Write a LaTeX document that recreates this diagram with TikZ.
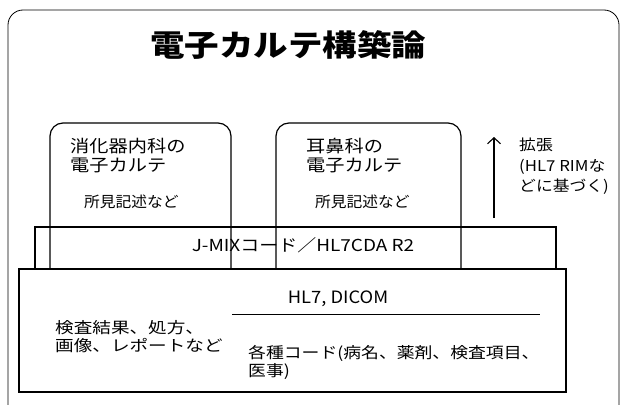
\documentclass[tikz,border=0pt]{standalone}
\usepackage{graphicx}
\usepackage{fontspec}
\setmainfont{Noto Sans CJK JP}
\usetikzlibrary{arrows.meta}
\newcommand{\wl}[2]{\scalebox{#1}[1]{\begin{tabular}{@{}l@{}}#2\end{tabular}}}
\tikzset{
  frame/.style={draw=black, line width=0.8pt},
  boxline/.style={draw=black, line width=1.2pt},
  txt/.style={inner sep=0pt, anchor=west},
  ctxt/.style={inner sep=0pt},
}
\begin{document}
\begin{tikzpicture}[x=1pt,y=-1pt]
\useasboundingbox (0,0) rectangle (623,404);
% outer frame
\draw[frame, rounded corners=15pt] (8,420) -- (8,10) -- (619,10) -- (619,420);
% title
\node[ctxt, font=\fontsize{30}{30}\selectfont\bfseries] (title) at (288,48) {\wl{1.15}{電子カルテ構築論}};
% department boxes
\draw[boxline, rounded corners=13pt] (50,269) -- (50,123) -- (231,123) -- (231,269);
\draw[boxline, rounded corners=13pt] (276,269) -- (276,123) -- (461,123) -- (461,269);
\node[txt, font=\fontsize{17}{18}\selectfont] (gi1) at (70,158) {\wl{1.13}{消化器内科の\\電子カルテ}};
\node[txt, font=\fontsize{17}{18}\selectfont] (ent1) at (306,158) {\wl{1.13}{耳鼻科の\\電子カルテ}};
\node[txt, font=\fontsize{15}{15}\selectfont] (gi2) at (84,203) {\wl{1.05}{所見記述など}};
\node[txt, font=\fontsize{15}{15}\selectfont] (ent2) at (315,203) {\wl{1.05}{所見記述など}};
% J-MIX box
\draw[boxline] (35,269) rectangle (556,227);
\node[ctxt, font=\fontsize{16.5}{16.5}\selectfont] (jmix) at (303,247) {\wl{1.15}{J-MIXコード／HL7CDA R2}};
% bottom box
\draw[boxline] (19,269) rectangle (566,392);
\node[ctxt, font=\fontsize{17}{17}\selectfont] (hl7) at (338,300) {\wl{1.08}{HL7, DICOM}};
\coordinate (sepL) at (232,314.5);
\coordinate (sepR) at (540,314.5);
\draw[line width=1.2pt] (sepL) -- (sepR);
\node[txt, font=\fontsize{15.5}{16.5}\selectfont] (exam) at (55,338) {\wl{1.2}{検査結果、処方、\\画像、レポートなど}};
\node[txt, font=\fontsize{15.5}{14.5}\selectfont] (codes) at (248,363) {\wl{1.15}{各種コード(病名、薬剤、検査項目、\\医事)}};
% extension arrow
\coordinate (arrB) at (494,218);
\coordinate (arrT) at (494,137);
\draw[line width=1.1pt, -{Straight Barb[length=6pt,width=13pt,line width=1.1pt]}] (arrB) -- (arrT);
\node[txt, font=\fontsize{15}{20.5}\selectfont] (ext) at (519,167) {\wl{1.12}{拡張\\(HL7 RIMな\\どに基づく)}};
\end{tikzpicture}
\end{document}
